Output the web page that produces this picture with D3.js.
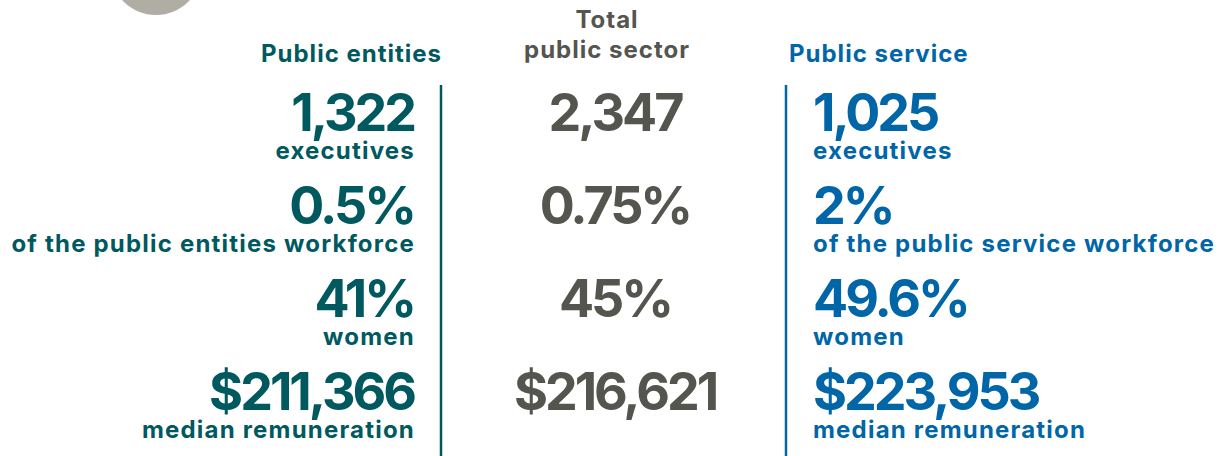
<!DOCTYPE html>
<html>
<head>
<meta charset="utf-8">
<script src="https://cdn.jsdelivr.net/npm/d3@7"></script>
<style>
  body { margin: 0; background: #fff; }
  svg text { font-family: Inter, "Open Sans", sans-serif; font-weight: 700; }
</style>
</head>
<body>
<div id="chart"></div>
<script>
// data
var groups = ["Public entities", "Total public sector", "Public service"]
var metrics = ["executives", "share", "women", "remuneration"]
var entitiesValues = ["1,322", "0.5%", "41%", "$211,366"]
var totalValues = ["2,347", "0.75%", "45%", "$216,621"]
var serviceValues = ["1,025", "2%", "49.6%", "$223,953"]
var entitiesLabels = ["executives", "of the public entities workforce", "women", "median remuneration"]
var serviceLabels = ["executives", "of the public service workforce", "women", "median remuneration"]

const svgWidth = 1223
const svgHeight = 456
var teal = "#00595f"
var grey = "#55554f"
var blue = "#0066a8"

var svg = d3.select("#chart")
    .append("svg")
    .attr("width", svgWidth)
    .attr("height", svgHeight)

// decorative circle top-left
svg.append("circle")
    .attr("cx", 156)
    .attr("cy", -31)
    .attr("r", 46)
    .style("fill", "#b0ada5")

var yScale = d3.scalePoint()
    .domain(metrics)
    .range([131, 410])

var cols = [
    {name: groups[0], values: entitiesValues, labels: entitiesLabels, color: teal, x: 414, anchor: "end"},
    {name: groups[1], values: totalValues, labels: null, color: grey, x: 615, anchor: "middle"},
    {name: groups[2], values: serviceValues, labels: serviceLabels, color: blue, x: 813, anchor: "start"}
]

function header(x, y, anchor, color, txt) {
    svg.append("text").attr("x", x).attr("y", y).attr("text-anchor", anchor)
        .style("fill", color).style("font-size", "24px").style("letter-spacing", "1px")
        .text(txt)
}
header(442, 62, "end", teal, groups[0])
header(607, 28, "middle", grey, "Total")
header(607, 58, "middle", grey, "public sector")
header(789, 62, "start", blue, groups[2])

// dividers
svg.append("line").attr("x1", 441).attr("x2", 441).attr("y1", 85).attr("y2", svgHeight)
    .style("stroke", teal).style("stroke-width", 2.5)
svg.append("line").attr("x1", 786).attr("x2", 786).attr("y1", 85).attr("y2", svgHeight)
    .style("stroke", blue).style("stroke-width", 2.5)

cols.forEach(function(c) {
    var g = svg.append("g")
    g.selectAll("text.val")
        .data(c.values)
        .enter()
        .append("text")
        .attr("class", "val")
        .attr("x", c.x)
        .attr("y", (d, i) => yScale(metrics[i]))
        .attr("text-anchor", c.anchor)
        .style("fill", c.color)
        .style("font-size", "52px")
        .style("letter-spacing", "-3px")
        .text(d => d)
    if (c.labels) {
        g.selectAll("text.lab")
            .data(c.labels)
            .enter()
            .append("text")
            .attr("class", "lab")
            .attr("x", c.anchor == "end" ? c.x + 1 : c.x)
            .attr("y", (d, i) => yScale(metrics[i]) + 28)
            .attr("text-anchor", c.anchor)
            .style("fill", c.color)
            .style("font-size", "24px")
            .style("letter-spacing", "1.2px")
            .text(d => d)
    }
})
</script>
</body>
</html>
